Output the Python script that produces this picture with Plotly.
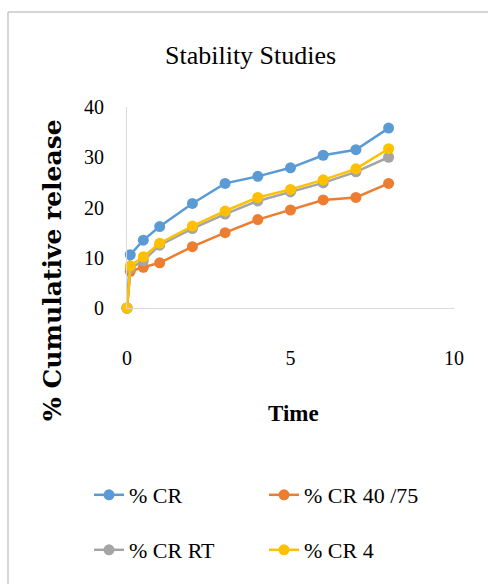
import plotly.graph_objects as go

time = [0, 0.1, 0.5, 1, 2, 3, 4, 5, 6, 7, 8]
cr = [0, 10.6, 13.5, 16.2, 20.8, 24.8, 26.2, 27.9, 30.4, 31.5, 35.8]
cr_40_75 = [0, 7.3, 8.1, 9.0, 12.2, 15.0, 17.6, 19.5, 21.5, 22.0, 24.8]
cr_rt = [0, 7.9, 9.4, 12.5, 15.8, 18.7, 21.3, 23.1, 24.9, 27.1, 30.0]
cr_4 = [0, 8.4, 10.2, 12.9, 16.3, 19.3, 22.0, 23.6, 25.5, 27.7, 31.7]

names = ["% CR", "% CR 40 /75", "% CR RT", "% CR 4"]
colors = ["#5B9BD5", "#ED7D31", "#A5A5A5", "#FFC000"]
series = [cr, cr_40_75, cr_rt, cr_4]
legend_ids = ["legend", "legend2", "legend3", "legend4"]
legend_pos = [(89, 495), (264, 495), (89, 550), (264, 550)]

W, H = 488, 584
L, R, T, B = 127, 34, 107, 276
pw, ph = W - L - R, H - T - B

def px(x):
    return (x - L) / pw

def py(y):
    return (H - B - y) / ph

serif = "Liberation Serif"

fig = go.Figure()
for name, col, ys, lg in zip(names, colors, series, legend_ids):
    fig.add_trace(go.Scatter(
        x=time, y=ys, name=name, mode="lines+markers",
        line=dict(color=col, width=2.5),
        marker=dict(color=col, size=11),
        cliponaxis=False, legend=lg,
    ))

legends = {}
for lg, (lx, ly) in zip(legend_ids, legend_pos):
    legends[lg] = dict(xref="container", yref="container",
                       x=lx / W, y=1 - ly / H, xanchor="left", yanchor="middle",
                       font=dict(size=22, family="Liberation Serif, Times New Roman, serif", color="black"),
                       bgcolor="rgba(0,0,0,0)", borderwidth=0)

fig.update_layout(
    width=W, height=H,
    margin=dict(l=L, r=R, t=T, b=B, autoexpand=False),
    paper_bgcolor="white", plot_bgcolor="white",
    font=dict(family=serif, color="black", size=19),
    xaxis=dict(range=[0, 10], tickvals=[0, 5, 10], showgrid=False, zeroline=False,
               showline=True, linecolor="#D9D9D9", linewidth=1, ticks="",
               ticklabelstandoff=32, tickfont=dict(size=20, family=serif)),
    yaxis=dict(range=[0, 40], tickvals=[0, 10, 20, 30, 40], showgrid=False, zeroline=False,
               showline=True, linecolor="#D9D9D9", linewidth=1, ticks="",
               ticklabelstandoff=18, tickfont=dict(size=20, family=serif)),
    showlegend=True,
    **legends,
)

fig.add_annotation(text="Stability Studies", xref="paper", yref="paper",
                   x=px(250), y=py(55), showarrow=False, xanchor="center", yanchor="middle",
                   font=dict(size=26, family=serif))
fig.add_annotation(text="<b>% Cumulative release</b>", xref="paper", yref="paper",
                   x=px(52), y=py(270), showarrow=False, textangle=-90,
                   xanchor="center", yanchor="middle", font=dict(size=25, family="DejaVu Serif"))
fig.add_annotation(text="<b>Time</b>", xref="paper", yref="paper",
                   x=px(293), y=py(413), showarrow=False, xanchor="center", yanchor="middle",
                   font=dict(size=23, family=serif))

fig.add_shape(type="line", xref="paper", yref="paper", x0=px(8), x1=px(500), y0=py(12), y1=py(12),
              line=dict(color="#C8C8C8", width=1.5))
fig.add_shape(type="line", xref="paper", yref="paper", x0=px(8), x1=px(8), y0=py(12), y1=py(600),
              line=dict(color="#C8C8C8", width=1.5))

fig.write_html("out.html")
